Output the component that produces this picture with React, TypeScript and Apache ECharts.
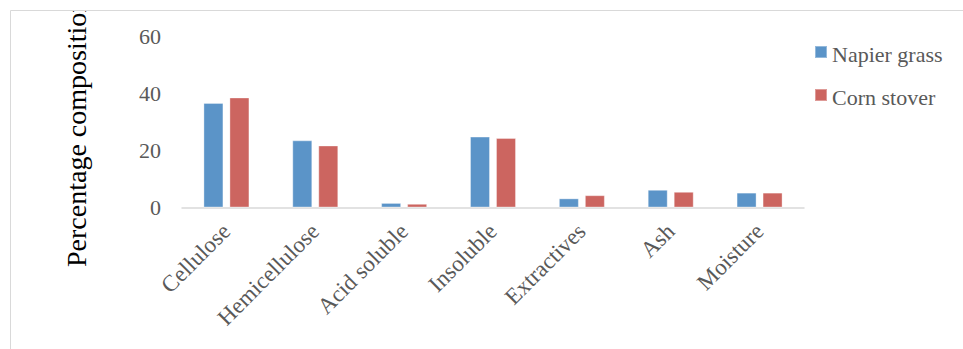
import React, { useEffect, useRef } from "react";
import * as echarts from "echarts";

const categories = ["Cellulose", "Hemicellulose", "Acid soluble", "Insoluble", "Extractives", "Ash", "Moisture"];
const napierGrass = [36.6, 23.5, 1.6, 24.8, 3.2, 6.2, 5.2];
const cornStover = [38.5, 21.7, 1.3, 24.3, 4.3, 5.5, 5.2];
const seriesNames = ["Napier grass", "Corn stover"];
const yTitle = "Percentage composition";

const FONT = "Liberation Serif";

export default function App() {
  const ref = useRef<HTMLDivElement>(null);
  useEffect(() => {
    if (!ref.current) return;
    const chart = echarts.init(ref.current, undefined, { renderer: "svg" });
    chart.setOption({
      animation: false,
      backgroundColor: "#ffffff",
      textStyle: { fontFamily: FONT },
      grid: { left: 182, right: 159, top: 36, bottom: 141.5, containLabel: false },
      legend: {
        orient: "vertical",
        left: 809,
        top: 38,
        itemWidth: 12,
        itemHeight: 12,
        itemGap: 21,
        icon: "rect",
        data: seriesNames,
        formatter: "{t|{name}}",
        textStyle: {
          fontFamily: FONT,
          fontSize: 22,
          color: "#595959",
          rich: { t: { fontFamily: FONT, fontSize: 22, color: "#595959", padding: [4, 0, 0, 0] } },
        },
      },
      xAxis: {
        type: "category",
        data: categories,
        axisLine: { show: true, lineStyle: { color: "#d9d9d9", width: 1.5 } },
        axisTick: { show: false },
        axisLabel: {
          interval: 0,
          rotate: 45,
          margin: 20,
          fontFamily: FONT,
          fontSize: 23,
          color: "#595959",
        },
      },
      yAxis: {
        type: "value",
        min: 0,
        max: 60,
        interval: 20,
        splitLine: { show: false },
        axisLine: { show: false },
        axisTick: { show: false },
        axisLabel: { margin: 21, fontFamily: FONT, fontSize: 22, color: "#595959" },
      },
      series: [
        {
          name: seriesNames[0],
          type: "bar",
          data: napierGrass,
          barWidth: 20,
          barGap: "30%",
          itemStyle: { color: "#5b94c8", borderColor: "rgba(255,255,255,0.35)", borderWidth: 1 },
        },
        {
          name: seriesNames[1],
          type: "bar",
          data: cornStover,
          barWidth: 20,
          barGap: "30%",
          itemStyle: { color: "#cc6560", borderColor: "rgba(255,255,255,0.35)", borderWidth: 1 },
        },
      ],
      graphic: [
        {
          type: "text",
          x: 76,
          y: 267,
          rotation: Math.PI / 2,
          z: 10,
          style: {
            text: yTitle,
            fontFamily: FONT,
            fontSize: 28,
            fill: "#000000",
            align: "left",
            verticalAlign: "middle",
          },
        },
        {
          type: "rect",
          z: 20,
          shape: { x: 0, y: 0, width: 963, height: 10 },
          style: { fill: "#ffffff" },
        },
        {
          type: "rect",
          z: 30,
          shape: { x: 10.5, y: 10.5, width: 1000, height: 400 },
          style: { fill: "none", stroke: "#d9d9d9", lineWidth: 1 },
        },
      ],
    });
    return () => chart.dispose();
  }, []);
  return (
    <div
      ref={ref}
      style={{ position: "fixed", left: 0, top: 0, width: 963, height: 349, background: "#fff" }}
    />
  );
}
